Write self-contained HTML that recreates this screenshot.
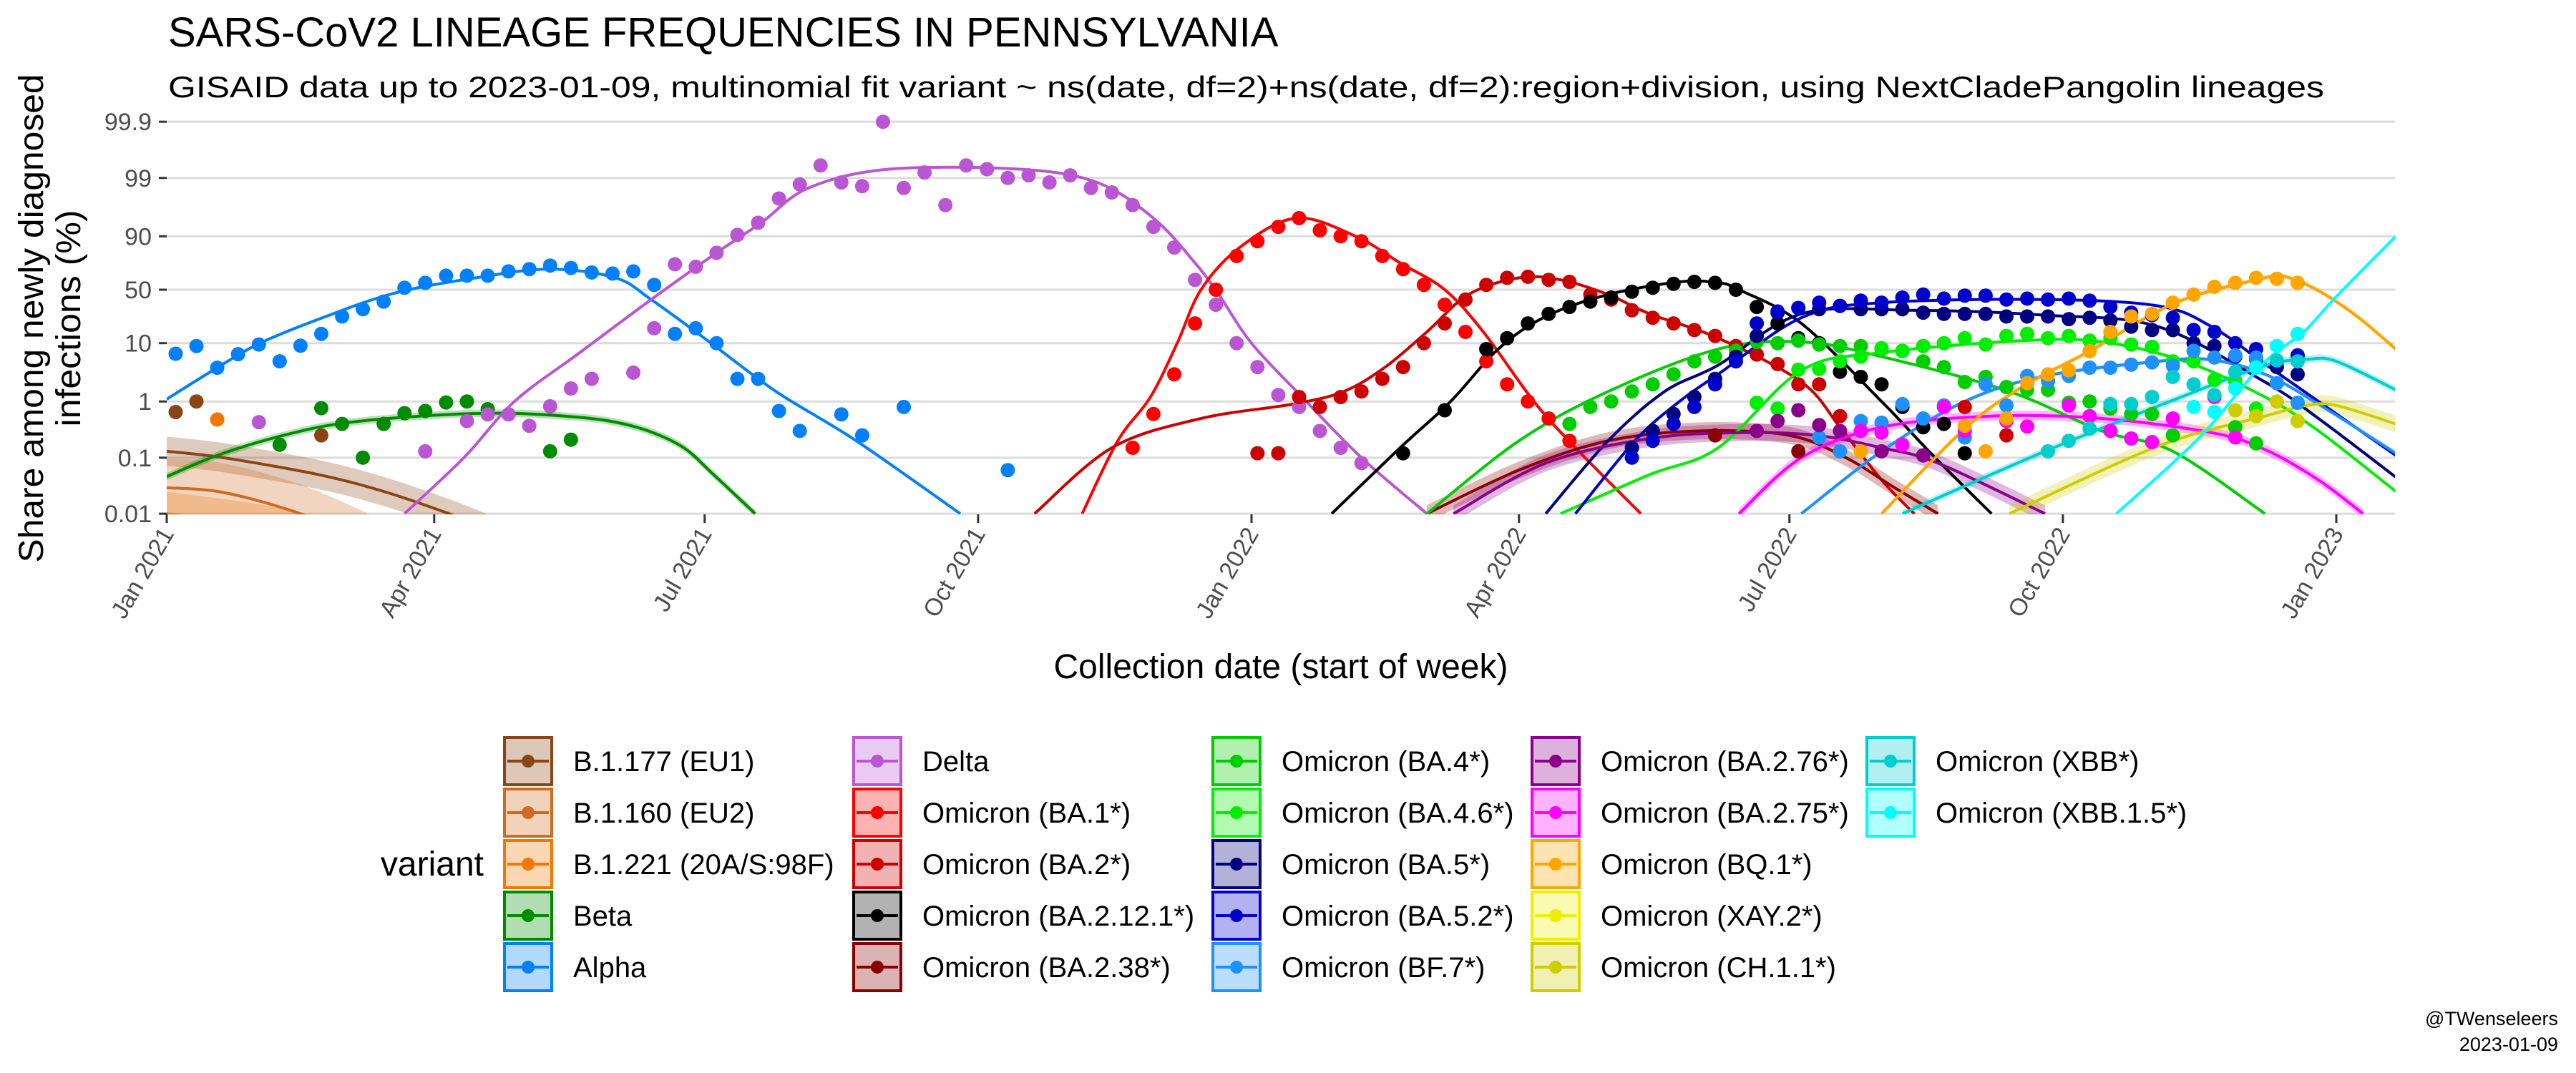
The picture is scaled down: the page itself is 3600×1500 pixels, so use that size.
<!DOCTYPE html>
<html>
<head>
<meta charset="utf-8">
<style>
html,body{margin:0;padding:0;background:#fff;}
svg{display:block;font-family:"Liberation Sans",Arial,sans-serif;}
</style>
</head>
<body>
<svg id="chart" xmlns="http://www.w3.org/2000/svg" width="3600" height="1500" viewBox="0 0 3600 1500">
  <rect x="0" y="0" width="3600" height="1500" fill="#ffffff"/>
  <text x="235" y="65" font-size="58" fill="#000">SARS-CoV2 LINEAGE FREQUENCIES IN PENNSYLVANIA</text>
  <text x="235" y="136" font-size="42" fill="#000" textLength="3013" lengthAdjust="spacingAndGlyphs">GISAID data up to 2023-01-09, multinomial fit variant ~ ns(date, df=2)+ns(date, df=2):region+division, using NextCladePangolin lineages</text>
  <g id="grid"></g>
  <defs><clipPath id="plotclip"><rect x="233" y="150" width="3114" height="569"/></clipPath></defs>
  <g id="bands" clip-path="url(#plotclip)"></g>
  <g id="lines" clip-path="url(#plotclip)"></g>
  <g id="dots" clip-path="url(#plotclip)"></g>
  <g id="yaxis"></g>
  <g id="xaxis"></g>
  <text transform="translate(60,445) rotate(-90)" text-anchor="middle" font-size="48" fill="#000" textLength="683" lengthAdjust="spacingAndGlyphs">Share among newly diagnosed</text>
  <text transform="translate(112,445) rotate(-90)" text-anchor="middle" font-size="48" fill="#000" textLength="303" lengthAdjust="spacingAndGlyphs">infections (%)</text>
  <text x="1790" y="948" text-anchor="middle" font-size="48" fill="#000">Collection date (start of week)</text>
  <g id="legend">
    <text x="676" y="1224" text-anchor="end" font-size="48" fill="#000">variant</text>
  </g>
  <text x="3575" y="1433" text-anchor="end" font-size="27" fill="#000">@TWenseleers</text>
  <text x="3575" y="1469" text-anchor="end" font-size="27" fill="#000">2023-01-09</text>
</svg>
<script>
// ---------- axis data ----------
const yTickValues = [0.01, 0.1, 1, 10, 50, 90, 99, 99.9];
const yTickLabels = ["0.01", "0.1", "1", "10", "50", "90", "99", "99.9"];
const xTickDates = ["2021-01-01","2021-04-01","2021-07-01","2021-10-01","2022-01-01","2022-04-01","2022-07-01","2022-10-01","2023-01-01"];
const xTickLabels = ["Jan 2021","Apr 2021","Jul 2021","Oct 2021","Jan 2022","Apr 2022","Jul 2022","Oct 2022","Jan 2023"];

// ---------- series data (fits: dates + %, dots: weekly start + %) ----------
const b1177FitDates = ["2021-01-01","2021-01-20","2021-02-21","2021-03-15","2021-04-06","2021-04-25"];
const b1177FitPct = [0.13,0.1,0.05,0.025,0.01,0.004];
const b1177DotStart = "2021-01-04";
const b1177DotPct = [0.65,1.0,null,null,null,null,null,0.25];

const b1160FitDates = ["2021-01-01","2021-01-20","2021-02-15","2021-03-10"];
const b1160FitPct = [0.029,0.024,0.01,0.003];
const b1160DotStart = "2021-01-04";
const b1160DotPct = [];

const b1221FitDates = ["2021-01-01","2021-02-01","2021-03-01"];
const b1221FitPct = [0.01,0.006,0.003];
const b1221DotStart = "2021-01-18";
const b1221DotPct = [0.48];

const betaFitDates = ["2021-01-01","2021-01-18","2021-02-08","2021-03-01","2021-04-01","2021-04-25","2021-05-15","2021-05-30","2021-06-12","2021-06-24","2021-07-04","2021-07-18"];
const betaFitPct = [0.046,0.11,0.24,0.41,0.57,0.62,0.55,0.45,0.3,0.15,0.05,0.01];
const betaDotStart = "2021-02-08";
const betaDotPct = [0.17,null,0.76,0.4,0.1,0.4,0.62,0.68,0.96,1.0,0.73,null,null,0.13,0.21];

const alphaFitDates = ["2021-01-01","2021-01-18","2021-02-01","2021-02-20","2021-03-18","2021-04-15","2021-05-10","2021-06-01","2021-06-13","2021-07-02","2021-07-25","2021-08-21","2021-09-25"];
const alphaFitPct = [1.1,3.9,9.8,22,46,62,70,62,40,11,1.5,0.2,0.01];
const alphaDotStart = "2021-01-04";
const alphaDotPct = [6.7,9,3.9,6.6,9.5,5,9.1,14,25,31,38,52,57,64,64,64,68,70,73,71,67,66,68,55,14,17,10,2.5,2.5,0.68,0.3,null,0.59,0.25,null,0.8,null,null,null,null,0.06];

const deltaFitDates = ["2021-03-22","2021-04-11","2021-04-28","2021-05-20","2021-06-13","2021-07-05","2021-07-20","2021-08-05","2021-09-01","2021-10-15","2021-11-10","2021-11-29","2021-12-13","2021-12-21","2022-01-01","2022-01-18","2022-02-07","2022-03-01"];
const deltaFitPct = [0.01,0.1,1,7,40,82,94,98.5,99.3,99.3,98.8,95,75,45,10,1.2,0.1,0.01];
const deltaDotStart = "2021-01-04";
const deltaDotPct = [null,null,null,null,0.43,null,null,null,null,null,null,null,0.13,null,0.45,0.59,0.59,0.37,0.82,1.7,2.5,null,3.2,17,74,72,82,90.5,94,97.7,98.7,99.4,98.8,98.6,99.9,98.5,99.2,97,99.4,99.3,99.0,99.1,98.8,99.1,98.5,98.2,97,93,85,60,35,10,4,1.3,0.8,0.3,0.15,0.08];

const ba1FitDates = ["2021-11-05","2021-11-17","2021-11-28","2021-12-07","2021-12-15","2021-12-28","2022-01-16","2022-02-05","2022-02-20","2022-03-07","2022-03-20","2022-04-06","2022-04-20","2022-05-12"];
const ba1FitPct = [0.01,0.2,1.2,10,50,85,95,90,75,50,15,1,0.15,0.01];
const ba1DotStart = "2021-11-22";
const ba1DotPct = [0.15,0.6,3,20,50,80,88,93,95,92,90,88,80,70,55,35,15,5,2,1,0.5,0.2];

const ba2FitDates = ["2021-10-20","2021-11-15","2021-12-15","2022-01-15","2022-02-01","2022-02-15","2022-03-01","2022-03-15","2022-04-01","2022-04-15","2022-05-01","2022-05-15","2022-06-07","2022-07-05","2022-07-18","2022-08-01","2022-08-12"];
const ba2FitPct = [0.01,0.15,0.5,0.9,1.5,4,15,45,62,60,45,27,12,2.2,0.35,0.04,0.01];
const ba2DotStart = "2022-01-03";
const ba2DotPct = [0.12,0.12,1.2,0.8,1.2,1.5,2.5,4,10,20,40,55,62,63,60,58,45,40,30,24,20,16,13,9,6.5,4.5,2,2,0.55,null,null,null,null,null,0.8,null,0.25];

const ba2121FitDates = ["2022-01-28","2022-02-20","2022-03-09","2022-03-25","2022-04-10","2022-05-01","2022-05-25","2022-06-07","2022-06-14","2022-07-05","2022-08-01","2022-08-19","2022-09-07"];
const ba2121FitPct = [0.01,0.15,1,8,25,45,58,57,50,20,1,0.1,0.01];
const ba2121DotStart = "2022-02-21";
const ba2121DotPct = [0.12,null,0.7,null,8,12,20,27,33,38,42,48,52,56,58,57,50,33,20,12,10,3.3,2.7,2,0.8,0.35,0.4,0.12];

const ba238FitDates = ["2022-03-01","2022-04-01","2022-05-01","2022-06-01","2022-07-01","2022-07-20","2022-08-05","2022-08-20"];
const ba238FitPct = [0.01,0.06,0.2,0.3,0.25,0.1,0.03,0.01];
const ba238DotStart = "2022-06-06";
const ba238DotPct = [0.25,null,null,null,0.13];

const ba4FitDates = ["2022-03-01","2022-04-01","2022-05-01","2022-06-07","2022-07-05","2022-08-01","2022-09-13","2022-10-14","2022-11-07","2022-12-08"];
const ba4FitPct = [0.01,0.2,1.5,8,10.5,6,1.5,0.3,0.13,0.01];
const ba4DotStart = "2022-04-18";
const ba4DotPct = [0.4,0.8,1,1.5,2,3,5,6,7.5,10.5,10,11,9.5,9,9,8,7.5,5,4,2.2,2.7,1.8,1.6,1.6,0.95,1,0.75,0.6,0.6,0.25,null,null,0.35,0.18];

const ba46FitDates = ["2022-04-15","2022-05-15","2022-06-07","2022-07-05","2022-08-01","2022-09-18","2022-10-14","2022-11-11","2022-12-08","2022-12-26","2023-01-21"];
const ba46FitPct = [0.01,0.05,0.15,3.5,7,11,10.5,5,1.2,0.3,0.025];
const ba46DotStart = "2022-06-20";
const ba46DotPct = [0.95,0.75,3.6,3.7,5,6,8.3,7.4,9,10,12,9.5,13,14,12,13,11,12,9.5,8.7,5,5,2.4,2.3,0.75];

const ba5FitDates = ["2022-04-10","2022-05-01","2022-05-20","2022-06-07","2022-07-05","2022-08-11","2022-09-25","2022-11-02","2022-12-08","2022-12-26","2023-01-21"];
const ba5FitPct = [0.01,0.2,1.5,4.3,27,30,26,18,2.2,0.5,0.045];
const ba5DotStart = "2022-05-09";
const ba5DotPct = [0.15,0.3,0.6,1.2,2.5,6,13,28,32,31,34,31,31,31,28,27,27,27,25,25,25,23,24,22,18,16,16,10,9,6,5.5,4,3];

const ba52FitDates = ["2022-04-20","2022-05-10","2022-05-25","2022-06-07","2022-07-05","2022-08-01","2022-09-25","2022-11-02","2022-11-20","2022-12-08","2022-12-26","2023-01-21"];
const ba52FitPct = [0.01,0.2,1,3,24,37,40,34,18,4.5,1,0.11];
const ba52DotStart = "2022-05-09";
const ba52DotPct = [0.1,0.2,0.4,0.8,2,5,20,29,32,37,34,39,37,42,45,41,44,44,40,41,40,41,39,33,28,26,24,16,15,10,8,5,6.3];

const bf7FitDates = ["2022-07-05","2022-08-01","2022-08-29","2022-09-25","2022-11-02","2022-11-20","2022-12-08","2022-12-26","2023-01-21"];
const bf7FitPct = [0.01,0.13,1,2.8,5,5.3,3,0.9,0.12];
const bf7DotStart = "2022-07-11";
const bf7DotPct = [0.23,0.13,0.45,0.42,0.9,0.5,0.85,0.23,2,0.85,2.8,2.3,2.8,3.9,3.9,4.4,4.8,4.2,7.5,5.8,6.3,5.8,2.1,0.95];

const ba276FitDates = ["2022-03-10","2022-04-10","2022-05-15","2022-06-15","2022-07-10","2022-08-01","2022-08-20","2022-09-25"];
const ba276FitPct = [0.01,0.08,0.22,0.28,0.25,0.15,0.08,0.01];
const ba276DotStart = "2022-06-20";
const ba276DotPct = [0.3,0.45,0.7,0.38,0.3,null,0.13,null,0.11];

const ba275FitDates = ["2022-06-14","2022-07-05","2022-08-01","2022-09-07","2022-10-14","2022-11-20","2022-12-08","2022-12-26","2023-01-10"];
const ba275FitPct = [0.01,0.1,0.35,0.55,0.5,0.28,0.14,0.04,0.01];
const ba275DotStart = "2022-07-25";
const ba275DotPct = [0.3,0.28,0.17,null,0.8,0.3,null,0.45,0.36,null,0.85,0.55,0.3,0.22,0.19,0.5,null,1.2,0.23];

const bq1FitDates = ["2022-08-01","2022-08-29","2022-09-18","2022-10-10","2022-11-08","2022-12-08","2022-12-15","2022-12-26","2023-01-08","2023-01-21"];
const bq1FitPct = [0.01,0.33,1.9,7.4,37,62,63,49,25,8];
const bq1DotStart = "2022-07-25";
const bq1DotPct = [0.13,null,null,null,null,0.37,0.13,0.5,2.1,3,3.5,7.4,15,25,27,37,45,53,57,62,61,57];

const xay2FitDates = [];
const xay2FitPct = [];
const xay2DotStart = "2022-12-01";
const xay2DotPct = [];

const ch11FitDates = ["2022-09-13","2022-11-02","2022-12-08","2022-12-22","2023-01-01","2023-01-21"];
const ch11FitPct = [0.01,0.16,0.55,0.85,0.85,0.4];
const ch11DotStart = "2022-11-28";
const ch11DotPct = [0.7,0.55,1,0.45];

const xbbFitDates = ["2022-08-08","2022-09-25","2022-11-08","2022-12-08","2022-12-22","2023-01-01","2023-01-21"];
const xbbFitPct = [0.01,0.13,1.1,4.2,5.4,5,1.6];
const xbbDotStart = "2022-09-26";
const xbbDotPct = [0.13,0.2,0.33,0.9,0.9,1.2,2.7,2,1.3,3.3,4,5.2,5];

const xbb15FitDates = ["2022-10-19","2022-11-16","2022-12-07","2022-12-21","2023-01-01","2023-01-21"];
const xbb15FitPct = [0.01,0.23,4.4,15,43,90];
const xbb15DotStart = "2022-11-14";
const xbb15DotPct = [0.8,0.65,1.7,3.9,9,14];

// ---------- series styling / legend layout ----------
const series = [
  {key:"b1177", label:"B.1.177 (EU1)", color:"#8B4513", band:0.6, fd:b1177FitDates, fp:b1177FitPct, ds:b1177DotStart, dp:b1177DotPct},
  {key:"b1160", label:"B.1.160 (EU2)", color:"#D2691E", band:1.2, fd:b1160FitDates, fp:b1160FitPct, ds:b1160DotStart, dp:b1160DotPct},
  {key:"b1221", label:"B.1.221 (20A/S:98F)", color:"#F07800", band:0.9, fd:b1221FitDates, fp:b1221FitPct, ds:b1221DotStart, dp:b1221DotPct},
  {key:"beta", label:"Beta", color:"#008B00", band:0.15, fd:betaFitDates, fp:betaFitPct, ds:betaDotStart, dp:betaDotPct},
  {key:"alpha", label:"Alpha", color:"#0080FF", band:0.04, fd:alphaFitDates, fp:alphaFitPct, ds:alphaDotStart, dp:alphaDotPct},
  {key:"delta", label:"Delta", color:"#BA55D3", band:0.02, fd:deltaFitDates, fp:deltaFitPct, ds:deltaDotStart, dp:deltaDotPct},
  {key:"ba1", label:"Omicron (BA.1*)", color:"#FF0000", band:0.03, fd:ba1FitDates, fp:ba1FitPct, ds:ba1DotStart, dp:ba1DotPct},
  {key:"ba2", label:"Omicron (BA.2*)", color:"#CD0000", band:0.05, fd:ba2FitDates, fp:ba2FitPct, ds:ba2DotStart, dp:ba2DotPct},
  {key:"ba2121", label:"Omicron (BA.2.12.1*)", color:"#000000", band:0.05, fd:ba2121FitDates, fp:ba2121FitPct, ds:ba2121DotStart, dp:ba2121DotPct},
  {key:"ba238", label:"Omicron (BA.2.38*)", color:"#8B0000", band:0.35, fd:ba238FitDates, fp:ba238FitPct, ds:ba238DotStart, dp:ba238DotPct},
  {key:"ba4", label:"Omicron (BA.4*)", color:"#00CD00", band:0.05, fd:ba4FitDates, fp:ba4FitPct, ds:ba4DotStart, dp:ba4DotPct},
  {key:"ba46", label:"Omicron (BA.4.6*)", color:"#00EE00", band:0.05, fd:ba46FitDates, fp:ba46FitPct, ds:ba46DotStart, dp:ba46DotPct},
  {key:"ba5", label:"Omicron (BA.5*)", color:"#000080", band:0.05, fd:ba5FitDates, fp:ba5FitPct, ds:ba5DotStart, dp:ba5DotPct},
  {key:"ba52", label:"Omicron (BA.5.2*)", color:"#0000CD", band:0.05, fd:ba52FitDates, fp:ba52FitPct, ds:ba52DotStart, dp:ba52DotPct},
  {key:"bf7", label:"Omicron (BF.7*)", color:"#1E90FF", band:0.08, fd:bf7FitDates, fp:bf7FitPct, ds:bf7DotStart, dp:bf7DotPct},
  {key:"ba276", label:"Omicron (BA.2.76*)", color:"#8B008B", band:0.35, fd:ba276FitDates, fp:ba276FitPct, ds:ba276DotStart, dp:ba276DotPct},
  {key:"ba275", label:"Omicron (BA.2.75*)", color:"#FF00FF", band:0.2, fd:ba275FitDates, fp:ba275FitPct, ds:ba275DotStart, dp:ba275DotPct},
  {key:"bq1", label:"Omicron (BQ.1*)", color:"#FFA500", band:0.1, fd:bq1FitDates, fp:bq1FitPct, ds:bq1DotStart, dp:bq1DotPct},
  {key:"xay2", label:"Omicron (XAY.2*)", color:"#EEEE00", band:0.2, fd:xay2FitDates, fp:xay2FitPct, ds:xay2DotStart, dp:xay2DotPct},
  {key:"ch11", label:"Omicron (CH.1.1*)", color:"#CDCD00", band:0.35, fd:ch11FitDates, fp:ch11FitPct, ds:ch11DotStart, dp:ch11DotPct},
  {key:"xbb", label:"Omicron (XBB*)", color:"#00CDCD", band:0.15, fd:xbbFitDates, fp:xbbFitPct, ds:xbbDotStart, dp:xbbDotPct},
  {key:"xbb15", label:"Omicron (XBB.1.5*)", color:"#00FFFF", band:0.05, fd:xbb15FitDates, fp:xbb15FitPct, ds:xbb15DotStart, dp:xbb15DotPct}
];

// ---------- scales ----------
const NS = "http://www.w3.org/2000/svg";
const X0 = 233, XEND = 3265, PXD = (XEND - X0) / 730;
const Y0 = 405, KY = 34.0;
const DAY0 = Date.parse("2021-01-01T00:00:00Z");
function dayOf(s){ return (Date.parse(s + "T00:00:00Z") - DAY0) / 864e5; }
function xScale(d){ return X0 + d * PXD; }
function logit(p){ const q = p / 100; return Math.log(q / (1 - q)); }
function yFromLogit(l){ return Y0 - KY * l; }
function yScale(p){ return yFromLogit(logit(p)); }
function mk(tag, attrs, parent){
  const el = document.createElementNS(NS, tag);
  for (const k in attrs) el.setAttribute(k, attrs[k]);
  parent.appendChild(el);
  return el;
}
function curveSegs(pts){
  let d = "";
  for (let i = 0; i < pts.length - 1; i++){
    const p0 = pts[i-1] || pts[i], p1 = pts[i], p2 = pts[i+1], p3 = pts[i+2] || pts[i+1];
    const c1x = p1[0] + (p2[0]-p0[0])/6, c1y = p1[1] + (p2[1]-p0[1])/6;
    const c2x = p2[0] - (p3[0]-p1[0])/6, c2y = p2[1] - (p3[1]-p1[1])/6;
    d += ` C${c1x.toFixed(1)},${c1y.toFixed(1)} ${c2x.toFixed(1)},${c2y.toFixed(1)} ${p2[0].toFixed(1)},${p2[1].toFixed(1)}`;
  }
  return d;
}

// ---------- gridlines & y axis ----------
const gGrid = document.getElementById("grid");
const gY = document.getElementById("yaxis");
yTickValues.forEach((v, i) => {
  const y = yScale(v);
  const gl = mk("line", {x1: X0, x2: 3347, y1: y, y2: y, stroke: "#dcdcdc", "stroke-width": 3}, gGrid);
  
  
  const tk = mk("line", {x1: 222, x2: 233, y1: y, y2: y, stroke: "#333", "stroke-width": 3}, gY);
  
  
  const tx = mk("text", {x: 212, y: y + 12, "text-anchor": "end", "font-size": 34, fill: "#4d4d4d"}, gY);
  tx.textContent = yTickLabels[i];
  
  
});

// ---------- x axis ----------
const gX = document.getElementById("xaxis");
xTickDates.forEach((s, i) => {
  const x = xScale(dayOf(s));
  const tk = mk("line", {x1: x, x2: x, y1: 719, y2: 731, stroke: "#333", "stroke-width": 3}, gX);
  
  
  const tx = mk("text", {transform: `translate(${(x + 11).toFixed(1)},746) rotate(-60)`, "text-anchor": "end", "font-size": 34, fill: "#4d4d4d"}, gX);
  tx.textContent = xTickLabels[i];
  
  
});

// ---------- series ----------
const gB = document.getElementById("bands"), gL = document.getElementById("lines"), gD = document.getElementById("dots");
series.forEach(s => {
  if (s.fd.length > 1){
    const xs = s.fd.map(d => xScale(dayOf(d)));
    const ls = s.fp.map(p => logit(p));
    const mid = xs.map((x, i) => [x, yFromLogit(ls[i])]);
    const up = xs.map((x, i) => [x, yFromLogit(ls[i] + s.band)]);
    const lo = xs.map((x, i) => [x, yFromLogit(ls[i] - s.band)]).reverse();
    if (s.band >= 0.04){
      const bd = `M${up[0][0].toFixed(1)},${up[0][1].toFixed(1)}` + curveSegs(up) +
                 ` L${lo[0][0].toFixed(1)},${lo[0][1].toFixed(1)}` + curveSegs(lo) + " Z";
      const band = mk("path", {d: bd, fill: s.color, "fill-opacity": 0.28, stroke: "none"}, gB);
      
      
    }
    const ld = `M${mid[0][0].toFixed(1)},${mid[0][1].toFixed(1)}` + curveSegs(mid);
    const line = mk("path", {d: ld, fill: "none", stroke: s.color, "stroke-width": 4}, gL);
    
    
  }
  const d0 = dayOf(s.ds);
  s.dp.forEach((p, i) => {
    if (p === null || p === undefined) return;
    const c = mk("circle", {cx: xScale(d0 + 7 * i).toFixed(1), cy: yScale(p).toFixed(1), r: 10, fill: s.color}, gD);
    
    
  });
});

// ---------- legend ----------
const legendColX = [703, 1191, 1693, 2139, 2607];
const gLeg = document.getElementById("legend");
series.forEach((s, idx) => {
  const col = Math.floor(idx / 5), row = idx % 5;
  const x = legendColX[col], y = 1029 + 72 * row, cy = y + 35;
  const g = mk("g", {}, gLeg);
  
  
  const box = mk("rect", {x: x + 2, y: y + 2, width: 66, height: 66, fill: s.color, "fill-opacity": 0.3, stroke: s.color, "stroke-width": 4}, g);
  
  
  const ln = mk("line", {x1: x + 6, x2: x + 64, y1: cy, y2: cy, stroke: s.color, "stroke-width": 4}, g);
  
  
  const dot = mk("circle", {cx: x + 35, cy: cy, r: 9, fill: s.color}, g);
  
  
  const t = mk("text", {x: x + 98, y: cy + 14, "font-size": 40, fill: "#000"}, g);
  t.textContent = s.label;
  
  
});
</script>
</body>
</html>
